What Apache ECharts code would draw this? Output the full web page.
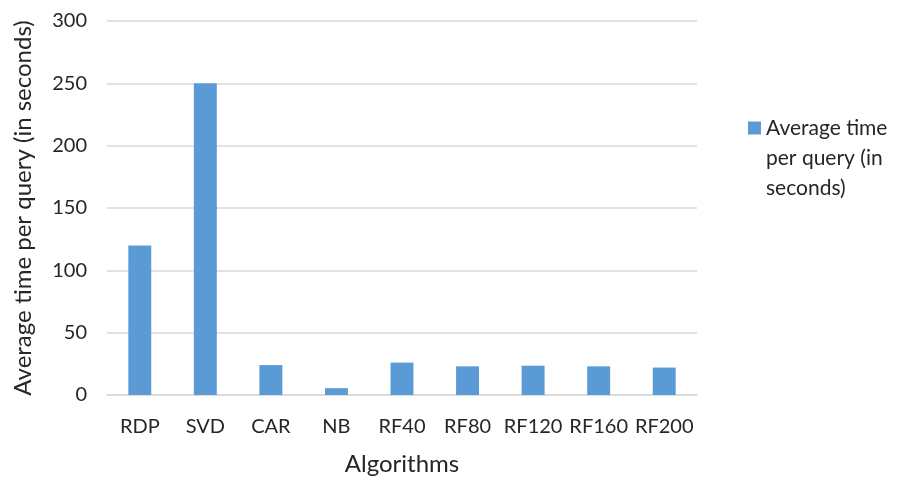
<!DOCTYPE html>
<html><head><meta charset="utf-8">
<script src="https://cdn.jsdelivr.net/npm/echarts@6/dist/echarts.min.js"></script>
<style>html,body{margin:0;padding:0;background:#fff}#c{width:899px;height:481px}</style>
</head><body><div id="c"></div>
<script>
const categories = ["RDP","SVD","CAR","NB","RF40","RF80","RF120","RF160","RF200"];
const values = [120, 250, 24, 5.5, 26, 23, 23.5, 23, 22];
const seriesName = "Average time per query (in seconds)";
const legendLines = ["Average time", "per query (in", "seconds)"];
const yTicks = {min: 0, max: 300, interval: 50};

const font = "Lato";
const txt = '#262626';
const chart = echarts.init(document.getElementById('c'));
chart.setOption({
  animation: false,
  textStyle: {fontFamily: font},
  grid: {left: 107, right: 202, top: 21, bottom: 85},
  legend: {
    left: 743, top: 108, orient: 'vertical',
    itemWidth: 13, itemHeight: 73,
    icon: 'path://M0,0L10,0L10,10L0,10Z M5,56.15L5.0001,56.15L5,56.1501Z',
    textStyle: {fontFamily: font, fontSize: 21, color: txt, lineHeight: 30},
    formatter: () => legendLines.join("\n"),
    data: [seriesName]
  },
  xAxis: {
    type: 'category', data: categories,
    axisLine: {lineStyle: {color: '#d9d9d9', width: 1.5}},
    axisTick: {show: false},
    axisLabel: {fontFamily: font, fontSize: 20, color: txt, margin: 22, interval: 0},
    name: 'Algorithms', nameLocation: 'middle', nameGap: 57,
    nameTextStyle: {fontFamily: font, fontSize: 24, color: txt}
  },
  yAxis: {
    type: 'value', min: yTicks.min, max: yTicks.max, interval: yTicks.interval,
    axisLine: {show: false}, axisTick: {show: false},
    splitLine: {lineStyle: {color: '#d9d9d9', width: 1.5}},
    axisLabel: {fontFamily: font, fontSize: 20, color: txt, margin: 20},
    name: seriesName, nameLocation: 'middle', nameGap: 72, nameRotate: 90,
    nameTextStyle: {fontFamily: font, fontSize: 24, color: txt}
  },
  series: [{
    name: seriesName, type: 'bar', data: values,
    barWidth: '35%',
    itemStyle: {color: '#5b9bd5'}
  }]
});
</script></body></html>
